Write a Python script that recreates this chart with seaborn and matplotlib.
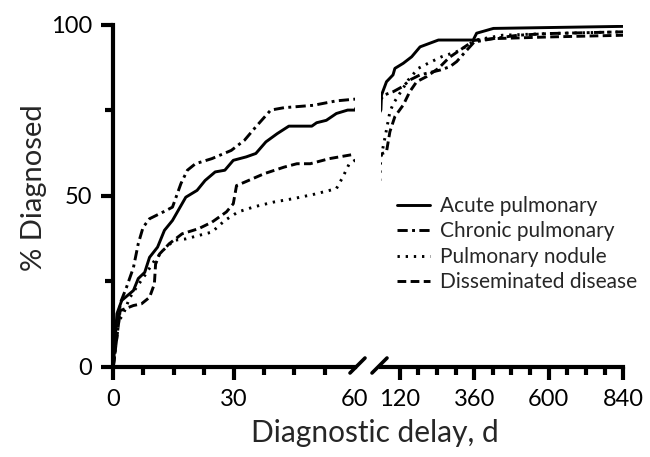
import pandas as pd
import matplotlib
matplotlib.use("Agg")
import matplotlib.pyplot as plt
from matplotlib.lines import Line2D
import seaborn as sns

# Cumulative % diagnosed by diagnostic delay (days)
acute_days = [0, 0.9, 2.1, 5, 6.2, 7.8, 9, 11, 12.7, 14.7, 18, 20.8, 22.8, 25.3, 27.7, 29.8, 33, 35.4, 37.9, 40.7,
              43.6, 49.3, 50.5, 52.9, 55.4, 58.2, 60, 62, 78, 99, 105, 132, 159, 186, 245, 357, 368, 422, 840]
acute_pct = [0, 15.5, 19.4, 22.3, 25.8, 27.6, 32, 35, 39.9, 42.8, 49.6, 51.6, 54.5, 57, 57.5, 60.4, 61.4, 62.4, 65.8, 68.2,
             70.4, 70.4, 71.4, 72.1, 74.1, 75.1, 75.1, 79.5, 83.4, 85.4, 87.3, 88.8, 90.7, 93.6, 95.6, 95.6, 97.6, 99, 99.6]

chronic_days = [0, 1.3, 1.7, 3.3, 5, 6.2, 7.4, 9, 13.1, 14.7, 16.8, 18.4, 20.4, 24.5, 29.3, 32.6, 35.4, 39.1, 42.4, 49.7,
                55.4, 60, 70, 100, 130, 153, 186, 250, 282, 304, 330, 360, 420, 500, 600, 840]
chronic_pct = [0, 12.6, 18.5, 23.3, 29, 36, 40.8, 43.3, 45.7, 46.7, 53.6, 57.5, 59.4, 60.9, 63.3, 66.3, 70.2, 75.1, 75.8, 76.5,
               77.8, 78.3, 79.5, 80.5, 82, 83.9, 85.4, 86.8, 87.8, 89.3, 92, 95, 96, 97, 97.5, 98]

nodule_days = [0, 0.9, 2.5, 4, 5.8, 8, 10.2, 12.3, 15.1, 18, 21.2, 24.5, 27.7, 31, 35, 39.9, 44.8, 50, 55.4, 57,
               58.6, 60, 62, 73, 89, 100, 148, 180, 212, 255, 304, 340, 360, 450, 600, 840]
nodule_pct = [0, 12.6, 15.4, 20, 23.3, 27, 31, 34, 37, 37.4, 38.4, 39.4, 42.8, 45.3, 46.8, 48.2, 49.2, 50.5, 52.1, 55.5,
              59.4, 60.4, 62, 67, 74.6, 77, 83.9, 87.3, 88.8, 90.7, 92.2, 94, 95.5, 97, 97.5, 98]

dissem_days = [0, 1.7, 5, 7, 9, 10.2, 10.5, 11.5, 13.9, 17.1, 21.2, 24.5, 28.1, 29.8, 30.6, 32.6, 37.5, 42.4, 45.6, 48.9,
               53.7, 60, 78, 89, 105, 132, 153, 175, 207, 245, 280, 320, 360, 420, 600, 840]
dissem_pct = [0, 16.4, 17.9, 18.4, 20.3, 24.2, 30, 33, 36, 38.9, 40.4, 42.3, 45.3, 47.7, 53, 54, 56.5, 58.4, 59.4, 59.4,
              60.9, 62.2, 62.9, 68.8, 73.2, 76.6, 80.5, 83.4, 84.9, 87.3, 90.5, 93, 95.5, 96, 96.5, 97]

groups = ["Acute pulmonary", "Chronic pulmonary", "Pulmonary nodule", "Disseminated disease"]
left_ticks = [0, 30, 60]
right_ticks = [120, 360, 600, 840]
y_ticks = [0, 50, 100]

# long-form table for seaborn
frames = []
for name, d, p in zip(groups, [acute_days, chronic_days, nodule_days, dissem_days],
                      [acute_pct, chronic_pct, nodule_pct, dissem_pct]):
    frames.append(pd.DataFrame({"day": d, "pct": p, "group": name}))
df = pd.concat(frames, ignore_index=True)

dashes = {"Acute pulmonary": "",
          "Chronic pulmonary": (3.5, 1.5, 1, 1.5),
          "Pulmonary nodule": (0.8, 2.0),
          "Disseminated disease": (3, 1.5)}

sns.set_style("white")
plt.rcParams["font.family"] = ["Lato", "DejaVu Sans"]

fig = plt.figure(figsize=(6.5, 4.57), dpi=100)
ax1 = fig.add_axes([0.1743, 0.1976, 0.3717, 0.7477])
ax2 = fig.add_axes([0.586, 0.1976, 0.373, 0.7477])

for ax in (ax1, ax2):
    sns.lineplot(data=df, x="day", y="pct", style="group", dashes=dashes, color="black",
                 linewidth=2.1, estimator=None, sort=False, legend=False, ax=ax)
    ax.set_ylim(0, 100)
    ax.set_xlabel("")
    ax.set_ylabel("")
    for s in ["top", "right"]:
        ax.spines[s].set_visible(False)
    ax.spines["bottom"].set_linewidth(3)
    ax.spines["left"].set_linewidth(3)
    ax.spines["bottom"].set_color("black")
    ax.spines["left"].set_color("black")
    ax.tick_params(which="both", bottom=True, left=True, direction="out", color="black", width=3)
    ax.tick_params(which="major", length=9, labelsize=17, labelcolor="black")
    ax.tick_params(axis="x", which="major", pad=7)
    ax.tick_params(axis="y", which="major", pad=6)
    ax.tick_params(which="minor", length=5.5)

# left panel: 0-60 days
ax1.set_xlim(0, 60)
ax1.set_xticks(left_ticks)
ax1.set_xticks([7.5, 15, 22.5, 37.5, 45, 52.5], minor=True)
ax1.xaxis.get_major_ticks()[2].tick1line.set_visible(False)
ax1.set_yticks(y_ticks)
ax1.set_yticks([25, 75], minor=True)

# right panel: 60-840 days
ax2.set_xlim(60, 840)
ax2.set_xticks(right_ticks)
ax2.set_xticks([180, 240, 300, 420, 480, 540, 660, 720, 780], minor=True)
ax2.spines["left"].set_visible(False)
ax2.set_yticks([])

# axis break marks
for x0 in (350, 372):
    fig.add_artist(Line2D([x0 / 650, (x0 + 15) / 650], [1 - 373 / 457, 1 - 358 / 457],
                          transform=fig.transFigure, color="black", linewidth=2.6))

fig.text(375 / 650, 1 - 442 / 457, "Diagnostic delay, d", fontsize=21.5, ha="center", va="baseline")
fig.text(34 / 650, 1 - 188 / 457, "% Diagnosed", fontsize=21, rotation=90, ha="center", va="center")

handles = [Line2D([0], [0], color="black", linewidth=2.1, linestyle=(0, dashes[g]) if dashes[g] else "-")
           for g in groups]
fig.legend(handles, groups, loc="upper left", bbox_to_anchor=(397 / 650, 1 - 196 / 457),
           frameon=False, fontsize=15, handlelength=1.6, handletextpad=0.48,
           labelspacing=0.26, borderpad=0, borderaxespad=0)

fig.savefig("out.png", dpi=100)
